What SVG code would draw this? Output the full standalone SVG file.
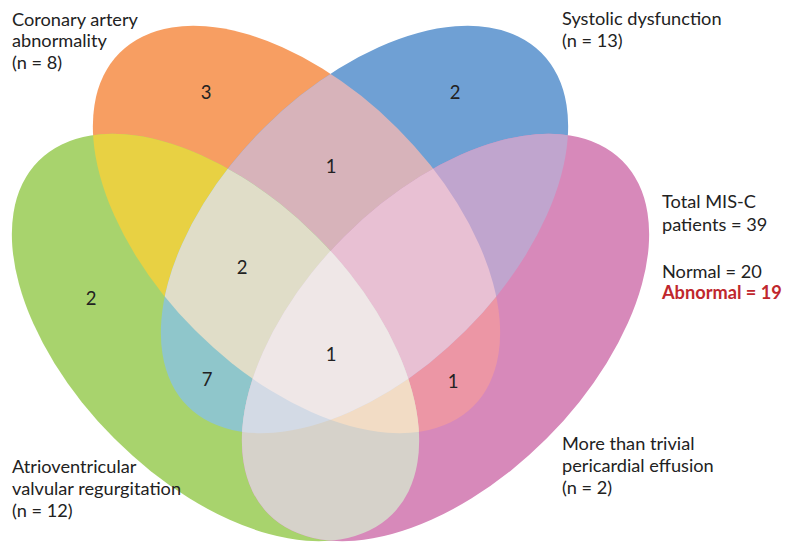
<svg xmlns="http://www.w3.org/2000/svg" xmlns:xlink="http://www.w3.org/1999/xlink" width="785" height="542" viewBox="0 0 785 542">
<style>
text{font-family:Lato,"Open Sans","Liberation Sans",sans-serif;font-size:18.2px;fill:#222}
.num{text-anchor:middle;font-size:18.5px}
.red{fill:#C0272D;font-weight:bold}
</style>
<defs>
<ellipse id="eO" cx="296.5" cy="229.5" rx="250" ry="143" transform="rotate(45 296.5 229.5)"/>
<ellipse id="eB" cx="364.5" cy="229.5" rx="250" ry="143" transform="rotate(-45 364.5 229.5)"/>
<ellipse id="eG" cx="215.5" cy="337.5" rx="250" ry="143" transform="rotate(45 215.5 337.5)"/>
<ellipse id="eP" cx="445.5" cy="337.5" rx="250" ry="143" transform="rotate(-45 445.5 337.5)"/>
<clipPath id="cB"><ellipse cx="364.5" cy="229.5" rx="250" ry="143" transform="rotate(-45 364.5 229.5)"/></clipPath>
<clipPath id="cG"><ellipse cx="215.5" cy="337.5" rx="250" ry="143" transform="rotate(45 215.5 337.5)"/></clipPath>
<clipPath id="cP"><ellipse cx="445.5" cy="337.5" rx="250" ry="143" transform="rotate(-45 445.5 337.5)"/></clipPath>
</defs>
<rect width="785" height="542" fill="#fff"/>
<g id="set-coronary"><use xlink:href="#eO" href="#eO" fill="#F79E62"/></g>
<g id="set-systolic"><use xlink:href="#eB" href="#eB" fill="#6FA0D4"/></g>
<g id="set-av"><use xlink:href="#eG" href="#eG" fill="#A8D36D"/></g>
<g id="set-pericardial"><use xlink:href="#eP" href="#eP" fill="#D789BA"/></g>
<g id="overlaps">
<use href="#eO" fill="#D7B3BA" clip-path="url(#cB)"/>
<use href="#eO" fill="#E8D143" clip-path="url(#cG)"/>
<use href="#eO" fill="#EC96A5" clip-path="url(#cP)"/>
<use href="#eB" fill="#8FC6CB" clip-path="url(#cG)"/>
<use href="#eB" fill="#C0A5CE" clip-path="url(#cP)"/>
<use href="#eG" fill="#D6D2CA" clip-path="url(#cP)"/>
<g clip-path="url(#cB)"><use href="#eO" fill="#E0DDC8" clip-path="url(#cG)"/></g>
<g clip-path="url(#cB)"><use href="#eO" fill="#E8C0D3" clip-path="url(#cP)"/></g>
<g clip-path="url(#cG)"><use href="#eO" fill="#F2DCC5" clip-path="url(#cP)"/></g>
<g clip-path="url(#cG)"><use href="#eB" fill="#D3DAE5" clip-path="url(#cP)"/></g>
<g clip-path="url(#cB)"><g clip-path="url(#cG)"><use href="#eO" fill="#EFE7E7" clip-path="url(#cP)"/></g></g>
</g>
<g id="counts">
<text class="num" x="206" y="99">3</text>
<text class="num" x="455" y="99">2</text>
<text class="num" x="331" y="173">1</text>
<text class="num" x="242" y="274">2</text>
<text class="num" x="91" y="305">2</text>
<text class="num" x="331" y="361">1</text>
<text class="num" x="207" y="386">7</text>
<text class="num" x="453" y="388">1</text>
</g>
<g id="labels">
<text x="12" y="26">Coronary artery</text>
<text x="12" y="47">abnormality</text>
<text x="12" y="69">(n = 8)</text>
<text x="562" y="25">Systolic dysfunction</text>
<text x="562" y="47">(n = 13)</text>
<text x="662" y="208">Total MIS-C</text>
<text x="662" y="231">patients = 39</text>
<text x="662" y="278">Normal = 20</text>
<text class="red" x="662" y="299">Abnormal = 19</text>
<text x="12" y="473">Atrioventricular</text>
<text x="12" y="495">valvular regurgitation</text>
<text x="12" y="517">(n = 12)</text>
<text x="562" y="450">More than trivial</text>
<text x="562" y="472">pericardial effusion</text>
<text x="562" y="494">(n = 2)</text>
</g>
</svg>
